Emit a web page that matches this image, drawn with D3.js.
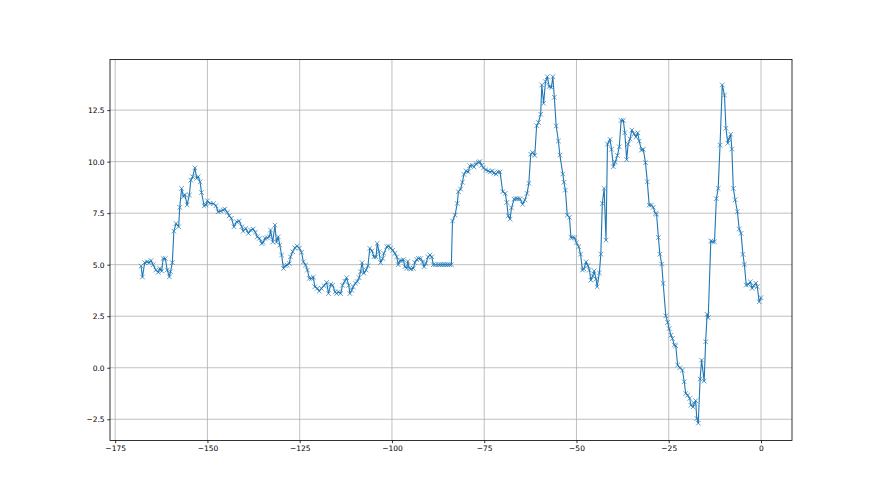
<!DOCTYPE html>
<html>
<head>
<meta charset="utf-8">
<script src="https://cdn.jsdelivr.net/npm/d3@7"></script>
<style>
  body { margin: 0; background: #fff; }
  svg { display: block; }
  .tick text { font-family: "DejaVu Sans", sans-serif; font-size: 7.5px; fill: #000; }
</style>
</head>
<body>
<div id="chart"></div>
<script>
// x positions of the samples
var xValues = [
  -168,-167.6,-167.0,-166.3,-165.8,-165.3,-164.7,-164.0,-163.3,-162.9,
  -162.4,-162.0,-161.4,-160.9,-160.3,-160.0,-159.5,-159.1,-158.5,-157.8,
  -157.5,-157.0,-156.5,-156.1,-155.5,-154.9,-154.5,-154.0,-153.4,-152.9,
  -152.5,-152.0,-151.6,-150.9,-150.4,-150.0,-149.3,-148.4,-147.7,-147.1,
  -146.4,-145.7,-145.3,-144.6,-144.1,-143.5,-142.8,-142.1,-141.4,-140.7,
  -140.3,-139.6,-138.9,-138.3,-137.6,-137.0,-136.5,-135.9,-135.3,-134.9,
  -134.4,-133.8,-133.2,-132.9,
  -132.3,-131.7,-131.3,-130.8,-130.4,-129.9,-129.4,-128.9,-128.4,-127.8,
  -127.5,-126.9,-126.3,-125.7,-125.1,-124.5,-124.0,-123.4,-122.9,-122.4,
  -121.8,-121.3,-120.9,-120.2,-119.7,-119.1,-118.4,-117.7,-117.2,-116.6,
  -116.1,-115.4,-115.0,-114.5,-113.9,-113.4,-112.8,-112.3,-111.7,-111.4,
  -110.9,-110.5,-109.9,-109.4,-108.9,-108.5,-108.1,-107.6,-107.0,-106.5,
  -106.0,-105.4,-104.9,-104.3,-104.0,-103.5,-103.1,-102.5,-102.2,-101.4,
  -100.9,-100.4,-99.8,-99.2,-98.7,-98.3,-97.8,-97.3,-96.9,-96.5,
  -96.0,-95.7,-95.3,-94.8,-94.2,-93.8,-93.3,-92.8,-92.2,-91.7,
  -91.3,-90.8,-90.2,-89.7,-89.2,-88.8,-88.2,-87.4,
  -86.9,-86.4,-85.9,-85.4,-84.9,-84.4,-83.9,
  -83.6,-82.9,-82.3,-82.0,-81.4,-80.9,-80.5,-79.9,-79.3,-78.9,
  -78.2,-77.8,-77.2,-76.6,-76.2,-75.7,-75.2,-74.6,-73.9,-73.4,
  -72.8,-72.4,-71.8,-71.3,-70.7,-70.0,-69.3,-68.9,-68.5,-68.0,
  -67.6,-66.9,-66.4,-65.9,-65.3,-64.6,-64.0,-63.4,-62.9,-62.4,
  -61.9,-61.3,-60.8,-60.3,-59.7,-59.4,-58.9,-58.4,-57.9,-57.4,
  -56.8,-56.4,-56.0,-55.5,-54.9,-54.5,
  -53.7,-53.4,-53.0,-52.5,-51.9,-51.5,-51.0,-50.5,-50.0,-49.4,
  -48.9,-48.4,-48.0,-47.4,-46.9,-46.5,-46.1,-45.6,-45.2,-44.7,
  -44.4,-43.8,-43.4,-43.0,-42.5,-42.0,-41.6,-40.9,-40.5,-40.0,
  -39.5,-38.9,-38.4,-37.9,-37.3,-36.9,-36.4,-36.0,-35.5,-35.0,
  -34.4,-33.9,-33.4,-33.0,-32.4,-31.9,-31.3,-30.8,-30.3,-29.7,
  -29.2,-28.6,-28.3,-27.8,-27.4,-26.9,-26.5,
  -25.8,-25.3,-24.9,-24.4,-24.0,-23.5,-23.1,-22.6,-22.0,-21.3,
  -20.8,-20.4,-19.9,-19.3,-19.0,-18.4,-18.1,-17.7,-17.4,-17.0,
  -16.5,-16.1,-15.4,-15.0,-14.6,-14.3,-13.6,-13.2,-12.6,-12.1,
  -11.6,-11.1,-10.5,-9.9,-9.5,-9.0,-8.7,-8.2,-7.9,-7.5,
  -7.0,-6.4,-5.9,-5.4,-4.9,-4.5,-4.0,-3.4,-2.9,-2.4,
  -2.0,-1.4,-1.0,-0.5,0
];

// sample values, same order as xValues
var yValues = [
  4.93,4.4,5.1,5.14,5.1,5.2,5.0,4.74,4.63,4.82,
  4.69,5.3,5.3,4.74,4.41,4.66,5.1,6.63,7.0,6.84,
  7.78,8.7,8.3,8.4,7.9,8.38,9.1,9.27,9.7,9.19,
  9.27,9.02,8.5,7.86,7.9,8.1,7.97,7.97,7.86,7.57,
  7.6,7.65,7.7,7.54,7.37,7.25,6.84,7.08,7.12,6.84,
  6.63,6.76,6.52,6.68,6.73,6.57,6.35,6.28,6.03,6.08,
  6.28,6.31,6.36,6.68,
  6.1,6.92,6.1,6.35,5.95,5.47,4.82,4.95,4.98,5.06,
  5.38,5.63,5.82,5.9,5.8,5.6,5.14,4.98,4.74,4.33,
  4.33,4.4,3.93,3.85,3.72,3.85,3.98,4.14,3.6,4.05,
  4.0,3.68,3.6,3.68,3.6,4.0,4.2,4.37,4.0,3.6,
  3.76,3.93,4.1,4.18,4.37,4.66,5.1,4.58,4.74,4.95,
  5.79,5.67,5.38,5.38,6.03,5.63,5.1,5.3,5.55,5.87,
  5.9,5.8,5.7,5.55,5.38,5.0,5.2,5.2,5.25,4.9,
  4.82,5.16,4.82,4.79,4.82,5.1,5.25,5.3,5.3,5.13,
  4.9,5.06,5.38,5.47,5.38,5.0,5.0,5.0,
  5.0,5.0,5.0,5.0,5.0,5.0,5.0,
  7.12,7.4,7.97,8.54,8.67,9.0,9.38,9.55,9.5,9.8,
  9.82,9.74,9.9,9.96,10.0,9.82,9.7,9.6,9.55,9.5,
  9.55,9.44,9.4,9.5,9.5,8.54,8.46,8.02,7.37,7.21,
  7.76,8.18,8.2,8.2,8.2,7.93,8.14,8.46,8.95,10.36,
  10.45,10.3,11.74,11.9,12.3,13.72,12.83,13.88,14.12,13.64,
  13.6,14.12,13.12,11.73,11.0,10.32,
  9.4,9.0,8.62,7.4,7.3,6.32,6.32,6.3,6.06,5.87,
  5.51,4.74,4.8,5.14,4.95,4.74,4.25,4.45,4.7,4.3,
  3.93,4.6,5.51,7.97,8.7,6.19,10.85,11.08,10.6,9.75,
  9.98,10.3,10.72,12.0,12.0,11.4,10.1,10.85,11.1,11.53,
  11.35,11.2,11.4,11.0,10.56,10.6,9.95,9.02,7.89,7.89,
  7.78,7.49,7.45,6.32,5.51,5.03,4.09,
  2.52,2.2,1.9,1.58,1.42,1.1,1.07,0.13,0.0,-0.12,
  -0.68,-1.25,-1.33,-1.49,-1.82,-1.9,-1.73,-1.6,-2.46,-2.69,
  -0.55,0.37,-0.65,1.26,2.59,2.43,6.15,6.12,6.11,8.2,
  8.7,10.8,13.72,13.23,11.62,10.89,11.1,11.33,10.61,8.7,
  8.15,7.57,6.73,6.52,5.5,5.01,4.01,4.04,4.17,3.85,
  3.98,4.1,3.93,3.2,3.4
];

var xTicks = [-175, -150, -125, -100, -75, -50, -25, 0];
var yTicks = [-2.5, 0.0, 2.5, 5.0, 7.5, 10.0, 12.5];

var data = xValues.map(function (x, i) { return { x: x, y: yValues[i] }; });

// figure geometry (matplotlib-like subplot params)
var W = 880, H = 495;
var margin = { top: 59.4, right: 88, bottom: 54.5, left: 110 };
var width  = W - margin.left - margin.right,
    height = H - margin.top - margin.bottom;

var lineColor = "#1f77b4";

function padded(ext) {
  var d = (ext[1] - ext[0]) * 0.05;
  return [ext[0] - d, ext[1] + d];
}

var xScale = d3.scaleLinear()
  .domain(padded(d3.extent(xValues)))
  .range([0, width]);
var yScale = d3.scaleLinear()
  .domain(padded(d3.extent(yValues)))
  .range([height, 0]);

var minus = function (s) { return s.replace("-", "\u2212"); };

var svg = d3.select("#chart").append("svg")
  .attr("width", W)
  .attr("height", H);

var g = svg.append("g")
  .attr("transform", "translate(" + margin.left + "," + margin.top + ")");

// grid
g.append("g").attr("class", "grid")
  .selectAll("line").data(xTicks).enter().append("line")
  .attr("x1", function (d) { return xScale(d); })
  .attr("x2", function (d) { return xScale(d); })
  .attr("y1", 0).attr("y2", height)
  .attr("stroke", "#b0b0b0").attr("stroke-width", 0.8);
g.append("g").attr("class", "grid")
  .selectAll("line").data(yTicks).enter().append("line")
  .attr("y1", function (d) { return yScale(d); })
  .attr("y2", function (d) { return yScale(d); })
  .attr("x1", 0).attr("x2", width)
  .attr("stroke", "#b0b0b0").attr("stroke-width", 0.8);

// line
var line = d3.line()
  .x(function (d) { return xScale(d.x); })
  .y(function (d) { return yScale(d.y); });

g.append("path")
  .datum(data)
  .attr("fill", "none")
  .attr("stroke", lineColor)
  .attr("stroke-width", 1.1)
  .attr("stroke-linejoin", "round")
  .attr("d", line);

// 'x' markers
var m = 2.3;
g.append("g").selectAll("path.mark")
  .data(data).enter().append("path")
  .attr("class", "mark")
  .attr("transform", function (d) { return "translate(" + xScale(d.x) + "," + yScale(d.y) + ")"; })
  .attr("d", "M" + (-m) + "," + (-m) + "L" + m + "," + m + "M" + (-m) + "," + m + "L" + m + "," + (-m))
  .attr("stroke", lineColor)
  .attr("stroke-width", 0.7)
  .attr("fill", "none");

// axes
var xAxis = d3.axisBottom(xScale)
  .tickValues(xTicks)
  .tickSize(2.7).tickSizeOuter(0).tickPadding(2.7)
  .tickFormat(function (d) { return minus(d3.format("d")(d)); });
var yAxis = d3.axisLeft(yScale)
  .tickValues(yTicks)
  .tickSize(2.7).tickSizeOuter(0).tickPadding(2.7)
  .tickFormat(function (d) { return minus(d3.format(".1f")(d)); });

var xAxisEl = g.append("g")
  .attr("transform", "translate(0," + height + ")")
  .call(xAxis);
var yAxisEl = g.append("g").call(yAxis);

[xAxisEl, yAxisEl].forEach(function (a) {
  a.select(".domain").remove();
  a.selectAll(".tick line").attr("stroke", "#000").attr("stroke-width", 0.8);
});

// spines
g.append("rect")
  .attr("x", 0).attr("y", 0)
  .attr("width", width).attr("height", height)
  .attr("fill", "none")
  .attr("stroke", "#000")
  .attr("stroke-width", 0.8);
</script>
</body>
</html>
